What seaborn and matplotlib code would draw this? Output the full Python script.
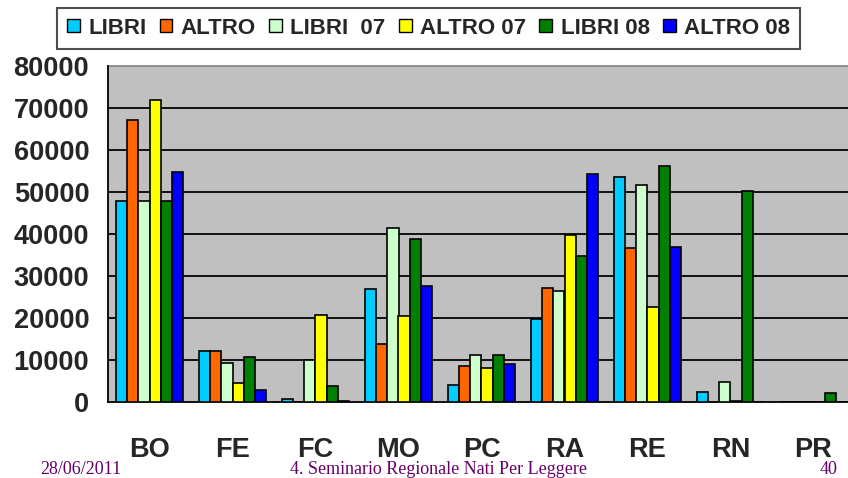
import matplotlib
matplotlib.use("Agg")
import matplotlib.pyplot as plt
from matplotlib.patches import Patch
from matplotlib import font_manager
import seaborn as sns
import pandas as pd

# Province codes on the x axis
provinces = ["BO", "FE", "FC", "MO", "PC", "RA", "RE", "RN", "PR"]

# Series values per province
libri = [47900, 12300, 700, 26900, 4100, 19800, 53500, 2500, 0]
altro = [67100, 12300, 0, 13800, 8600, 27300, 36600, 0, 0]
libri_07 = [47900, 9350, 10050, 41500, 11200, 26500, 51600, 4800, 0]
altro_07 = [71800, 4500, 20800, 20450, 8200, 39700, 22700, 300, 0]
libri_08 = [47900, 10850, 3800, 38900, 11200, 34800, 56100, 50200, 2100]
altro_08 = [54700, 3000, 300, 27650, 9000, 54300, 37000, 0, 0]

series_names = ["LIBRI", "ALTRO", "LIBRI  07", "ALTRO 07", "LIBRI 08", "ALTRO 08"]
series_colors = ["#00CCFF", "#FF6600", "#CCFFCC", "#FFFF00", "#008000", "#0000FF"]

y_ticks = [0, 10000, 20000, 30000, 40000, 50000, 60000, 70000, 80000]

series_values = [libri, altro, libri_07, altro_07, libri_08, altro_08]
rows = []
for name, vals in zip(series_names, series_values):
    for prov, v in zip(provinces, vals):
        rows.append({"provincia": prov, "serie": name, "valore": v})
df = pd.DataFrame(rows)

sns.set_style("white")
available = {f.name for f in font_manager.fontManager.ttflist}
narrow = "Liberation Sans Narrow" if "Liberation Sans Narrow" in available else None
plt.rcParams["font.family"] = ["Liberation Sans", "DejaVu Sans"]

fig = plt.figure(figsize=(8.48, 4.78), dpi=100)
ax = fig.add_axes([108 / 848, 75.7 / 478, 747 / 848, 336.3 / 478])
ax.set_facecolor("#C0C0C0")

sns.barplot(data=df, x="provincia", y="valore", hue="serie",
            order=provinces, hue_order=series_names,
            palette=series_colors, saturation=1, edgecolor="black", linewidth=1.2,
            width=0.8, errorbar=None, ax=ax, legend=False, zorder=3)

ax.set_xlim(-0.5, len(provinces) - 0.5)
ax.set_ylim(0, 80000)

# Horizontal gridlines
for yv in y_ticks[1:-1]:
    ax.axhline(yv, color="#111111", lw=1.4, zorder=1)

ax.set_yticks(y_ticks)
ax.set_yticklabels([str(v) for v in y_ticks], fontsize=19.5, fontweight="bold")
ax.tick_params(axis="y", direction="out", length=5.5, width=1.1, color="black", pad=8)

# Category boundaries as ticks, names centered between them
ax.set_xticks([i - 0.5 for i in range(len(provinces) + 1)])
ax.set_xticklabels([])
ax.tick_params(axis="x", which="major", direction="out", length=5.5, width=1.1, color="black")
ax.set_xticks(range(len(provinces)), minor=True)
if narrow:
    cat_font = dict(family=[narrow, "Liberation Sans"], fontsize=22)
else:
    cat_font = dict(family=["Liberation Sans", "DejaVu Sans"], fontsize=19.5)
ax.set_xticklabels(provinces, minor=True, fontweight="bold", **cat_font)
ax.tick_params(axis="x", which="minor", length=0, pad=25)
ax.set_xlabel("")
ax.set_ylabel("")

for side in ["top", "right"]:
    ax.spines[side].set_visible(False)
ax.spines["left"].set_color("black")
ax.spines["left"].set_linewidth(1.3)
ax.spines["bottom"].set_color("black")
ax.spines["bottom"].set_linewidth(1.3)
ax.axhline(80000, color="#808080", lw=1.2, zorder=1, clip_on=False)

handles = [Patch(facecolor=c, edgecolor="black", linewidth=1.0) for c in series_colors]
leg = fig.legend(handles, series_names, loc="center", ncol=6,
                 bbox_to_anchor=(428.5 / 848, 1 - 28 / 478), bbox_transform=fig.transFigure,
                 prop={"family": "Liberation Sans", "weight": "bold", "size": 16},
                 frameon=True, fancybox=False, edgecolor="#222222",
                 handlelength=0.57, handleheight=0.57, handletextpad=0.38,
                 columnspacing=0.6, borderpad=0.45, borderaxespad=0)
leg.get_frame().set_linewidth(1.5)

footer = dict(family=["Liberation Serif", "DejaVu Serif"], fontsize=13, color="#660066")
fig.text(40 / 848, 4 / 478, "28/06/2011", ha="left", va="baseline", **footer)
fig.text(438.6 / 848, 4 / 478, "4. Seminario Regionale Nati Per Leggere", ha="center", va="baseline", **footer)
fig.text(838 / 848, 4 / 478, "40", ha="right", va="baseline", **footer)

fig.savefig("out.png", dpi=100)
